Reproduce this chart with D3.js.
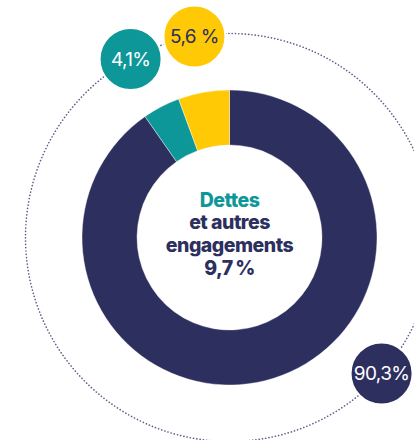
<!DOCTYPE html>
<html>
<head>
<meta charset="utf-8">
<script src="https://cdn.jsdelivr.net/npm/d3@7"></script>
<style>
  html, body { margin: 0; padding: 0; background: #fff; }
  svg { display: block; }
</style>
</head>
<body>
<div id="chart"></div>
<script>
// Data
const categories = ['Autres', 'Dettes', 'Divers'];
const values = [90.3, 4.1, 5.6];
const valueLabels = ['90,3%', '4,1%', '5,6 %'];
const centerLines = ['Dettes', 'et autres', 'engagements', '9,7\u2009%'];

const colors = ['#2d2f5e', '#0e9799', '#ffc906'];
const labelColors = ['#ffffff', '#ffffff', '#2d2f5e'];

const width = 414, height = 440;
const cx = 229.5, cy = 237.5;
const outerR = 147.5, innerR = 92.5;
const ringR = 204, bubbleR = 31;

const svg = d3.select('#chart').append('svg')
    .attr('width', width)
    .attr('height', height);

const g = svg.append('g')
    .attr('transform', `translate(${cx},${cy})`);

// Dotted outer ring
g.append('circle')
    .attr('r', ringR)
    .attr('fill', 'none')
    .attr('stroke', '#5d5f88')
    .attr('stroke-width', 1.6)
    .attr('stroke-linecap', 'round')
    .attr('stroke-dasharray', '0.1 3.2');

// Donut
const pie = d3.pie().sort(null).value(d => d);
const arcs = pie(values);
const arc = d3.arc().innerRadius(innerR).outerRadius(outerR);

g.selectAll('path.slice')
    .data(arcs)
    .enter()
    .append('path')
    .attr('class', 'slice')
    .attr('d', arc)
    .attr('fill', (d, i) => colors[i])
    .attr('stroke', '#ffffff')
    .attr('stroke-width', 0.4);

// Bubble positions (angle along the dotted ring, degrees clockwise from top)
const bubbleAngles = [131.8, -29, -9.9];
const angle = d3.scaleLinear().domain([0, 360]).range([0, 2 * Math.PI]);

const bubbles = g.selectAll('g.bubble')
    .data(arcs)
    .enter()
    .append('g')
    .attr('class', 'bubble')
    .attr('transform', (d, i) => {
        const a = angle(bubbleAngles[i]);
        return `translate(${ringR * Math.sin(a)},${-ringR * Math.cos(a)})`;
    });

bubbles.append('circle')
    .attr('r', bubbleR)
    .attr('fill', (d, i) => colors[i])
    .attr('stroke', '#ffffff')
    .attr('stroke-width', 2);

bubbles.append('text')
    .attr('text-anchor', 'middle')
    .attr('dy', '0.36em')
    .attr('font-family', 'Inter, Lato, sans-serif')
    .attr('font-weight', 400)
    .attr('font-size', '19px')
    .attr('letter-spacing', '-0.6px')
    .attr('fill', (d, i) => labelColors[i])
    .text((d, i) => valueLabels[i]);

// Center label
const lineY = d3.scaleLinear().domain([0, 3]).range([-31, 37]);
g.selectAll('text.center')
    .data(centerLines)
    .enter()
    .append('text')
    .attr('class', 'center')
    .attr('x', 0)
    .attr('y', (d, i) => lineY(i))
    .attr('text-anchor', 'middle')
    .attr('font-family', 'Inter, Lato, sans-serif')
    .attr('font-weight', 800)
    .attr('font-size', '19.5px')
    .attr('letter-spacing', '-0.5px')
    .attr('fill', (d, i) => i === 0 ? colors[1] : colors[0])
    .text(d => d);
</script>
</body>
</html>
